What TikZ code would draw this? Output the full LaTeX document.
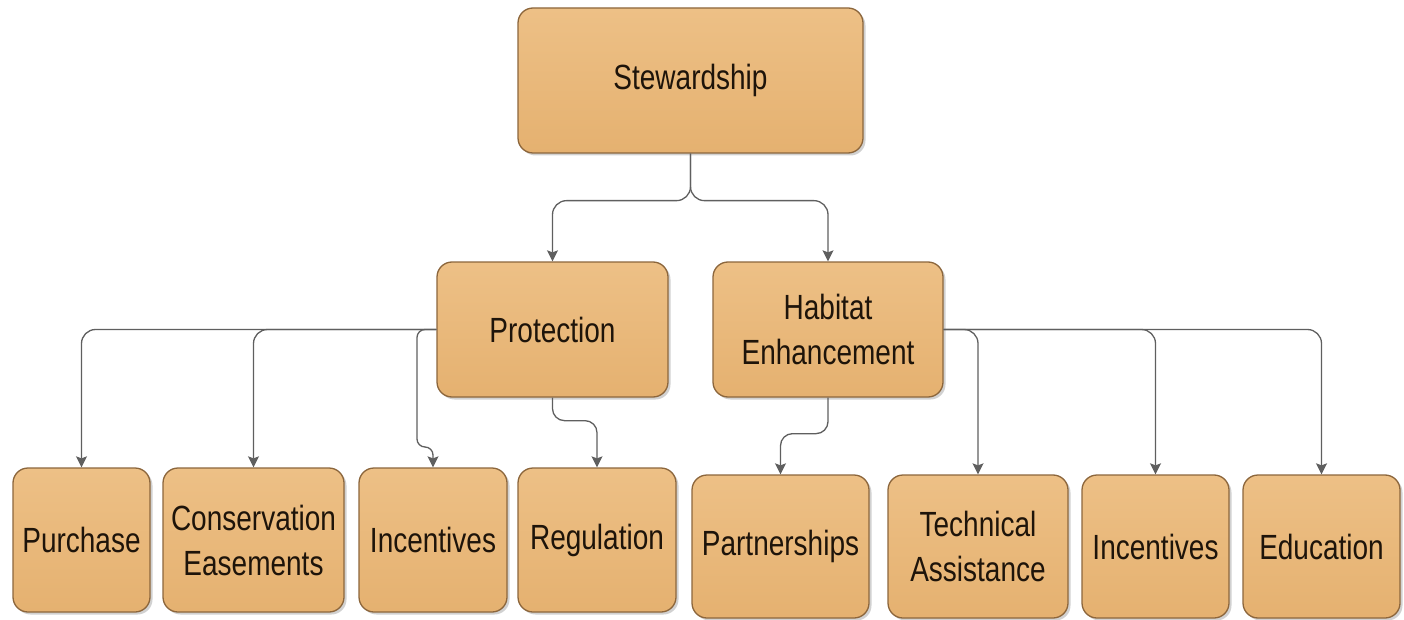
\documentclass[tikz,border=0pt]{standalone}
\usepackage{fontspec}
\setmainfont{Liberation Sans}[FakeStretch=0.8]
\usetikzlibrary{arrows.meta,shadows}
\definecolor{boxtop}{RGB}{237,192,134}
\definecolor{boxbot}{RGB}{229,177,112}
\definecolor{boxedge}{RGB}{140,102,60}
\definecolor{linegray}{RGB}{95,95,95}
\definecolor{txt}{RGB}{30,20,10}
\begin{document}
\begin{tikzpicture}[x=1pt,y=-1pt,
  box/.style={draw=boxedge, line width=1.3pt, rounded corners=15pt,
    top color=boxtop, bottom color=boxbot, text=txt, align=center,
    font=\fontsize{35}{45}\selectfont, inner sep=0pt,
    drop shadow={shadow xshift=2.5pt, shadow yshift=-2.5pt, opacity=0.3, fill=black!60}},
  conn/.style={draw=linegray, line width=1.3pt, rounded corners=14pt,
    -{Stealth[width=11pt,length=11pt,inset=2pt]}}]
\useasboundingbox (0,0) rectangle (1404,620);
\node[box, minimum width=345pt, minimum height=145pt] (stew) at (690.5,80.5) {Stewardship};
\node[box, minimum width=231pt, minimum height=135pt] (prot) at (552.5,329.5) {Protection};
\node[box, minimum width=230pt, minimum height=135pt] (hab) at (828,329.5) {Habitat\\Enhancement};
\node[box, minimum width=137pt, minimum height=144pt] (pur) at (81.5,540) {Purchase};
\node[box, minimum width=181pt, minimum height=144pt] (cons) at (253.5,540) {Conservation\\Easements};
\node[box, minimum width=148pt, minimum height=144pt] (inc1) at (433,540) {Incentives};
\node[box, minimum width=158pt, minimum height=144pt] (reg) at (597,540) {Regulation};
\node[box, minimum width=177pt, minimum height=143pt] (part) at (780.5,546.5) {Partnerships};
\node[box, minimum width=180pt, minimum height=143pt] (tech) at (978,546.5) {Technical\\Assistance};
\node[box, minimum width=147pt, minimum height=143pt] (inc2) at (1155.5,546.5) {Incentives};
\node[box, minimum width=157pt, minimum height=143pt] (edu) at (1321.5,546.5) {Education};
\coordinate (ij) at (417,447);
\draw[conn] (stew.south) -- ++(0,47) -| (prot.north);
\draw[conn] (stew.south) -- ++(0,47) -| (hab.north);
\draw[conn] (prot.west) -| (pur.north);
\draw[conn] (prot.west) -| (cons.north);
\draw[conn, rounded corners=8pt] (prot.west) -| (ij) -| (inc1.north);
\draw[conn, rounded corners=12pt] (prot.south) -- ++(0,23) -| (reg.north);
\draw[conn, rounded corners=12pt] (hab.south) -- ++(0,36) -| (part.north);
\draw[conn] (hab.east) -| (tech.north);
\draw[conn] (hab.east) -| (inc2.north);
\draw[conn] (hab.east) -| (edu.north);
\end{tikzpicture}
\end{document}
